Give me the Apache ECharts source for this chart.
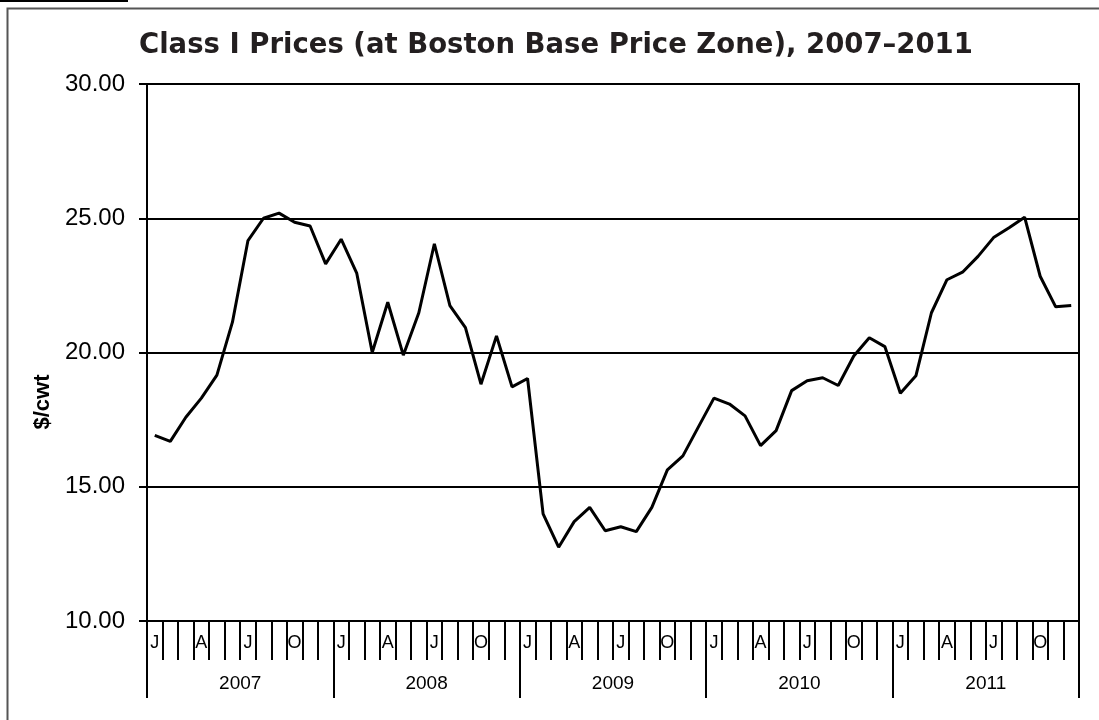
<!DOCTYPE html>
<html>
<head>
<meta charset="utf-8">
<script src="https://cdn.jsdelivr.net/npm/echarts@6/dist/echarts.min.js"></script>
<style>
  html, body { margin: 0; padding: 0; background: #fff; }
  #chart { width: 1099px; height: 720px; }
</style>
</head>
<body>
<div id="chart"></div>
<script>
// Class I prices, $/cwt, monthly Jan 2007 - Dec 2011
const years = ['2007', '2008', '2009', '2010', '2011'];
const monthLetters = ['J', 'F', 'M', 'A', 'M', 'J', 'J', 'A', 'S', 'O', 'N', 'D'];
const shownMonths = [0, 3, 6, 9];

const prices2007 = [16.91, 16.69, 17.59, 18.30, 19.16, 21.13, 24.17, 25.00, 25.19, 24.85, 24.71, 23.30];
const prices2008 = [24.22, 22.96, 20.00, 21.87, 19.90, 21.48, 24.05, 21.75, 20.93, 18.82, 20.62, 18.72];
const prices2009 = [19.03, 13.99, 12.75, 13.70, 14.23, 13.36, 13.51, 13.33, 14.23, 15.63, 16.15, 17.23];
const prices2010 = [18.30, 18.08, 17.64, 16.53, 17.09, 18.58, 18.95, 19.06, 18.77, 19.87, 20.55, 20.22];
const prices2011 = [18.48, 19.13, 21.48, 22.71, 22.99, 23.58, 24.28, 24.65, 25.04, 22.84, 21.70, 21.75];

const yTicks = { min: 10, max: 30, interval: 5 };

const prices = [...prices2007, ...prices2008, ...prices2009, ...prices2010, ...prices2011];
const months = [];
years.forEach(y => monthLetters.forEach((m, i) => months.push(y + '-' + i)));

const chart = echarts.init(document.getElementById('chart'));

const option = {
    animation: false,
    backgroundColor: '#fff',
    title: {
        text: 'Class I Prices (at Boston Base Price Zone), 2007\u20132011',
        left: 139,
        top: 32,
        padding: 0,
        textStyle: {
            fontFamily: 'DejaVu Sans',
            fontWeight: 'bold',
            fontSize: 27.5,
            color: '#231f20'
        }
    },
    graphic: [
        {
            type: 'rect',
            shape: { x: 0, y: 0, width: 128, height: 2 },
            style: { fill: '#000' }
        },
        {
            type: 'rect',
            shape: { x: 7.5, y: 8.5, width: 1110, height: 730 },
            style: { fill: 'none', stroke: '#555', lineWidth: 2 }
        },
        {
            // y axis title, sits lower than the plot centre in the original
            type: 'text',
            x: 43,
            y: 402,
            rotation: Math.PI / 2,
            style: {
                text: '$/cwt',
                font: 'bold 22px "Liberation Sans"',
                fill: '#000',
                align: 'center',
                verticalAlign: 'middle'
            }
        }
    ],
    grid: {
        left: 147,
        right: 20,
        top: 84,
        bottom: 99,
        show: true,
        borderColor: '#000',
        borderWidth: 2
    },
    xAxis: [
        {
            type: 'category',
            data: months,
            boundaryGap: true,
            position: 'bottom',
            axisLine: { show: true, lineStyle: { color: '#000', width: 2 } },
            axisTick: { show: true, interval: 0, length: 39, lineStyle: { color: '#000', width: 2 } },
            axisLabel: {
                interval: 0,
                margin: 13,
                fontFamily: 'Liberation Sans',
                fontSize: 18,
                color: '#000',
                formatter: (v) => {
                    const i = Number(v.split('-')[1]);
                    return shownMonths.includes(i) ? monthLetters[i] : '';
                }
            },
            splitLine: { show: false }
        },
        {
            type: 'category',
            data: years,
            boundaryGap: true,
            position: 'bottom',
            axisLine: { show: false },
            axisTick: { show: true, interval: 0, length: 77, lineStyle: { color: '#000', width: 2 } },
            axisLabel: {
                interval: 0,
                margin: 53,
                fontFamily: 'Liberation Sans',
                fontSize: 19,
                color: '#000'
            },
            splitLine: { show: false }
        }
    ],
    yAxis: {
        type: 'value',
        min: yTicks.min,
        max: yTicks.max,
        interval: yTicks.interval,
        axisLine: { show: true, lineStyle: { color: '#000', width: 2 } },
        axisTick: { show: true, length: 8, lineStyle: { color: '#000', width: 2 } },
        axisLabel: {
            margin: 22,
            fontFamily: 'Liberation Sans',
            fontSize: 24,
            color: '#000',
            formatter: (v) => v.toFixed(2)
        },
        splitLine: { show: true, lineStyle: { color: '#000', width: 2 } }
    },
    series: [
        {
            type: 'line',
            xAxisIndex: 0,
            data: prices,
            symbol: 'none',
            smooth: false,
            lineStyle: { color: '#000', width: 3 }
        }
    ]
};

chart.setOption(option);
</script>
</body>
</html>
